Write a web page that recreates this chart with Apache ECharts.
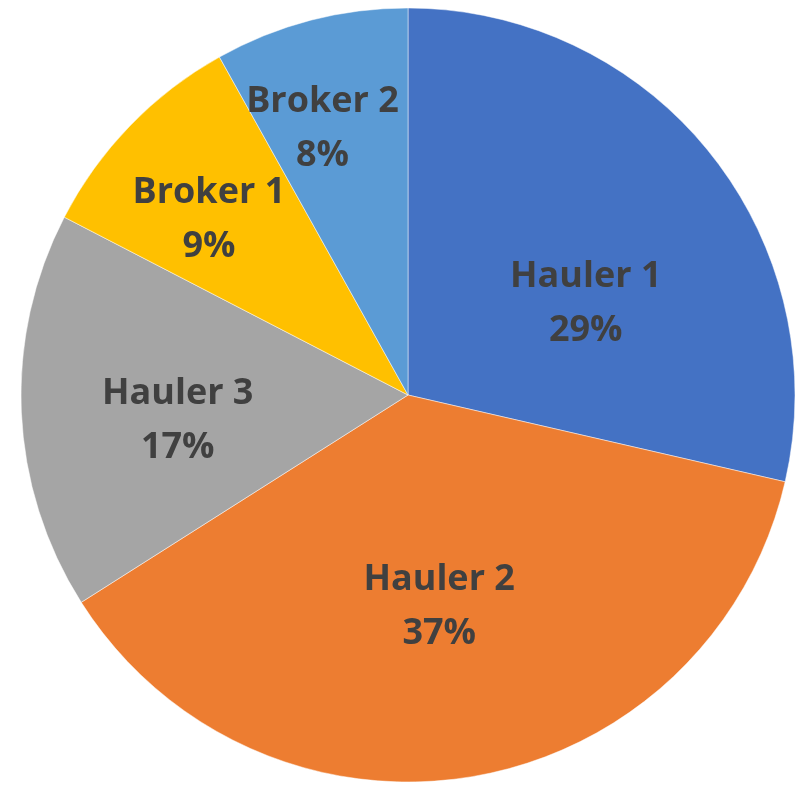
<!DOCTYPE html>
<html>
<head>
<meta charset="utf-8">
<script src="https://cdn.jsdelivr.net/npm/echarts@6/dist/echarts.min.js"></script>
<style>
  html, body { margin: 0; padding: 0; background: #fff; }
  #chart { width: 796px; height: 786px; }
</style>
</head>
<body>
<div id="chart"></div>
<script>
// slice names, shares and colours
var names = ['Hauler 1', 'Hauler 2', 'Hauler 3', 'Broker 1', 'Broker 2'];
var shares = [28.6, 37.4, 16.6, 9.3, 8.1];
var colors = ['#4472C4', '#ED7D31', '#A5A5A5', '#FFC000', '#5B9BD5'];
// label nudges from the default inside spot (best-fit placement)
var labelShift = [[24, 31], [-2, 18], [-34, 17], [-58, -39], [-36, -76]];

var chart = echarts.init(document.getElementById('chart'));

var data = names.map(function (n, i) {
  return { name: n, value: shares[i], itemStyle: { color: colors[i] } };
});

chart.setOption({
  animation: false,
  series: [{
    type: 'pie',
    center: [408, 395],
    radius: 387,
    startAngle: 90,
    clockwise: true,
    data: data,
    itemStyle: { borderColor: 'rgba(255,255,255,0.6)', borderWidth: 0.8 },
    label: {
      show: true,
      position: 'inside',
      formatter: function (p) {
        return p.name + '\n' + Math.round(p.percent) + '%';
      },
      color: '#404040',
      fontFamily: 'Open Sans',
      fontWeight: 'bold',
      fontSize: 36,
      lineHeight: 54
    },
    labelLine: { show: false },
    labelLayout: function (p) {
      var s = labelShift[p.dataIndex];
      return { dx: s[0], dy: s[1] };
    },
    emphasis: { disabled: true }
  }]
});
</script>
</body>
</html>
